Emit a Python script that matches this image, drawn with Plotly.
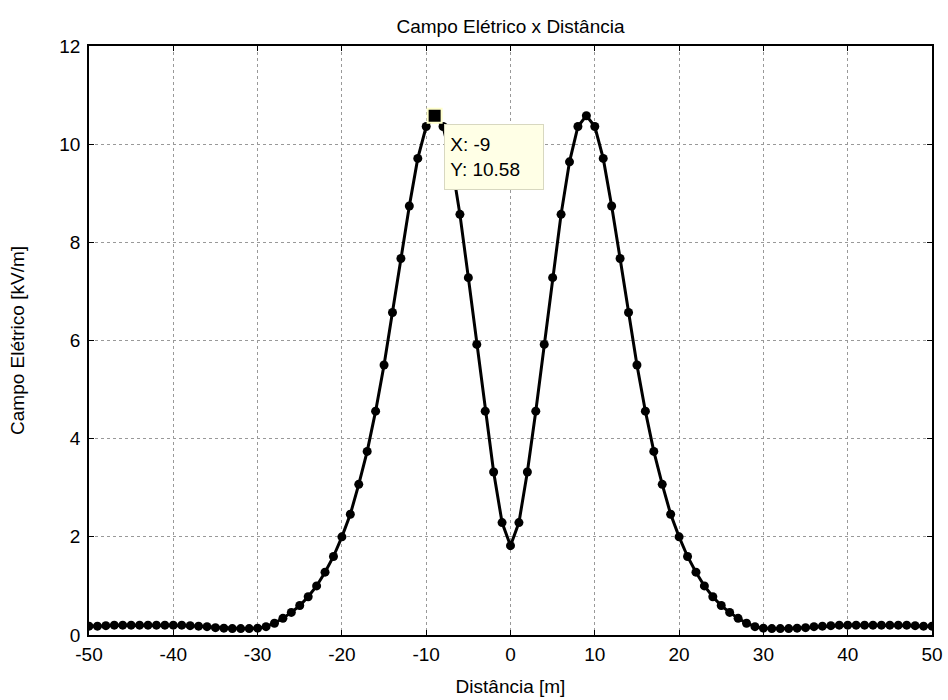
import plotly.graph_objects as go

distancia = list(range(-50, 51))
campo = [
    0.18, 0.18, 0.19, 0.20, 0.20, 0.20, 0.20, 0.20, 0.20, 0.20,
    0.20, 0.20, 0.19, 0.18, 0.17, 0.15, 0.14, 0.13, 0.13, 0.13,
    0.14, 0.17, 0.24, 0.34, 0.46, 0.60, 0.78, 1.00, 1.28, 1.60,
    2.00, 2.46, 3.07, 3.74, 4.56, 5.50, 6.57, 7.67, 8.74, 9.71,
    10.36, 10.58, 10.36, 9.64, 8.57, 7.28, 5.92, 4.56, 3.32, 2.29,
    1.82,
    2.29, 3.32, 4.56, 5.92, 7.28, 8.57, 9.64, 10.36, 10.58, 10.36,
    9.71, 8.74, 7.67, 6.57, 5.50, 4.56, 3.74, 3.07, 2.46, 2.00,
    1.60, 1.28, 1.00, 0.78, 0.60, 0.46, 0.34, 0.24, 0.17, 0.14,
    0.13, 0.13, 0.13, 0.14, 0.15, 0.17, 0.18, 0.19, 0.20, 0.20,
    0.20, 0.20, 0.20, 0.20, 0.20, 0.20, 0.20, 0.19, 0.18, 0.18,
]
tip_x = [-9]
tip_y = [10.58]
x_ticks = list(range(-50, 51, 10))
y_ticks = list(range(0, 13, 2))

FONT = "Liberation Sans, Arial, sans-serif"
FS = 19

fig = go.Figure()
fig.add_trace(go.Scatter(
    x=distancia, y=campo, mode="lines+markers",
    line=dict(color="black", width=3),
    marker=dict(color="black", size=9, symbol="circle"),
    showlegend=False, hoverinfo="skip",
))
fig.add_trace(go.Scatter(
    x=tip_x, y=tip_y, mode="markers",
    marker=dict(color="black", size=14, symbol="square",
                line=dict(color="#FFFFCC", width=2)),
    showlegend=False, hoverinfo="skip",
))

fig.add_annotation(
    x=tip_x[0], y=tip_y[0], xref="x", yref="y",
    text="&nbsp;X: -9<br>&nbsp;Y: 10.58", showarrow=False,
    xanchor="left", yanchor="top", xshift=9, yshift=-8,
    align="left", bgcolor="#FFFFE6", bordercolor="#D8D8C0", borderwidth=1,
    borderpad=0, width=98, height=64,
    font=dict(family=FONT, size=FS, color="black"),
)

axis_common = dict(
    showline=True, linecolor="black", linewidth=1.5, mirror="ticks",
    ticks="inside", ticklen=5, tickcolor="black", tickwidth=1,
    showgrid=True, gridcolor="#999999", griddash="dot", gridwidth=1,
    zeroline=False, automargin=False,
    tickfont=dict(family=FONT, size=FS, color="black"),
)

fig.update_xaxes(
    range=[-50, 50], tickvals=x_ticks, ticktext=[str(v) for v in x_ticks],
    ticklabelstandoff=1,
    title=dict(text="Distância [m]", font=dict(family=FONT, size=FS, color="black"), standoff=16),
    **axis_common,
)
fig.update_yaxes(
    range=[0, 12], tickvals=y_ticks, ticktext=[str(v) for v in y_ticks],
    ticklabelstandoff=3,
    title=dict(text="Campo Elétrico [kV/m]", font=dict(family=FONT, size=FS, color="black"), standoff=30),
    **axis_common,
)

fig.update_layout(
    width=948, height=700,
    margin=dict(l=89, r=16, t=46, b=65),
    paper_bgcolor="white", plot_bgcolor="white",
    title=dict(text="Campo Elétrico x Distância", x=(89 + 932) / 2 / 948, xanchor="center",
               y=1 - 26 / 700, yanchor="middle",
               font=dict(family=FONT, size=FS, color="black")),
)

fig.write_html("out.html")
